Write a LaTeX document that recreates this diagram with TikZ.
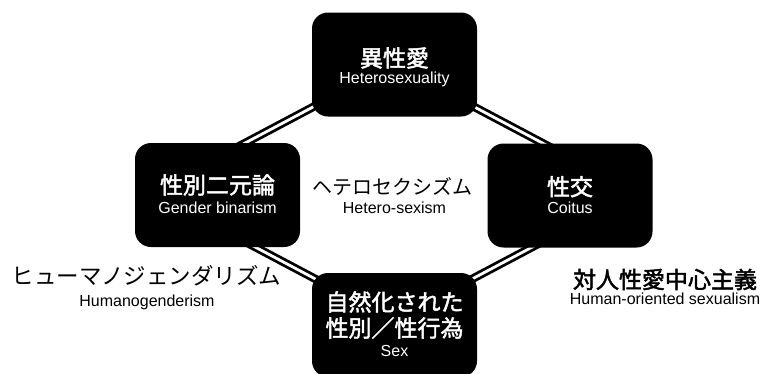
\documentclass[tikz,border=0pt]{standalone}
\usepackage{fontspec}
\setmainfont{Liberation Sans}
\newfontfamily\jp{Noto Sans CJK JP}
\newfontfamily\jpm{Noto Sans CJK JP}[FakeBold=2]
\begin{document}
\begin{tikzpicture}[x=1pt,y=-1pt,
  box/.style={fill=black, rounded corners=16pt, minimum width=165pt, minimum height=104pt, inner sep=0pt},
  conn/.style={line width=2.8pt, double=white, double distance=2.8pt},
  jtitle/.style={font=\jpm\fontsize{23}{23}\selectfont, text=white, anchor=base, inner sep=0pt},
  etitle/.style={font=\fontsize{16}{16}\selectfont, text=white, anchor=base, inner sep=0pt},
  jlabel/.style={font=\jp\fontsize{22.5}{22.5}\selectfont, text=black, anchor=base, inner sep=0pt},
  jlabelb/.style={font=\jpm\fontsize{23}{23}\selectfont, text=black, anchor=base, inner sep=0pt},
  elabel/.style={font=\fontsize{16}{16}\selectfont, text=black, anchor=base, inner sep=0pt}]
\useasboundingbox (0,0) rectangle (765,373);
\fill[white] (0,0) rectangle (765,373);
% connector end points
\coordinate (tlA) at (340,92.7);
\coordinate (tlB) at (230,151);
\coordinate (trA) at (447.5,92.7);
\coordinate (trB) at (557.5,151);
\coordinate (blA) at (240,239);
\coordinate (blB) at (340,292);
\coordinate (brA) at (547.5,239);
\coordinate (brB) at (447.5,292);
\draw[conn] (tlA) -- (tlB);
\draw[conn] (trA) -- (trB);
\draw[conn] (blA) -- (blB);
\draw[conn] (brA) -- (brB);
% boxes
\node[box] (top) at (394.5,64.5) {};
\node[box] (left) at (217.5,195) {};
\node[box] (right) at (570,195.5) {};
\node[box] (bottom) at (394.5,325) {};
% box texts
\node[jtitle] (topj) at (394.5,66.7) {異性愛};
\node[etitle] (tope) at (394.5,83.3) {Heterosexuality};
\node[jtitle] (leftj) at (217.5,193.7) {性別二元論};
\node[etitle] (lefte) at (217.5,213.3) {Gender binarism};
\node[jtitle] (rightj) at (570,195.4) {性交};
\node[etitle] (righte) at (570,213.3) {Coitus};
\node[jtitle] (botj1) at (394.5,310.7) {自然化された};
\node[jtitle] (botj2) at (394.5,336.7) {性別／性行為};
\node[etitle] (bote) at (394.5,356.7) {Sex};
% outside labels
\node[jlabel, font=\jp\fontsize{20}{20}\selectfont] (cenj) at (392.5,194) {ヘテロセクシズム};
\node[elabel] (cene) at (394.5,213.3) {Hetero-sexism};
\node[jlabel] (lj) at (146.5,284.5) {ヒューマノジェンダリズム};
\node[elabel] (le) at (147,306) {Humanogenderism};
\node[jlabelb] (rj) at (665,288.2) {対人性愛中心主義};
\node[elabel] (re) at (665,304) {Human-oriented sexualism};
\end{tikzpicture}
\end{document}
